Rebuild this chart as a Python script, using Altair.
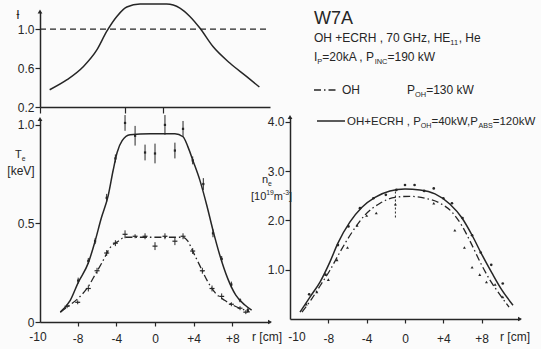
import altair as alt
import pandas as pd

W, H = 541, 349
INK = "#262626"
FONT = "Liberation Sans"

# ---------------- data ----------------
# top-left: rotational transform profile
iota_r = [-10.9, -9.1, -7.4, -6.0, -5.0, -3.95, -2.92, -1.55, 1.2, 2.58, 3.61, 4.64, 6.0, 7.74, 9.46, 10.8]
iota_v = [0.377, 0.48, 0.616, 0.788, 0.975, 1.129, 1.226, 1.256, 1.256, 1.215, 1.129, 1.01, 0.82, 0.651, 0.514, 0.405]
iota_ref_r = [-11.9, 11.9]
iota_ref_v = [1.0, 1.0]

# bottom-left: electron temperature, fitted curves
te_ecrh_r = [-9.8, -8.77, -7.95, -6.9, -6.2, -5.57, -4.85, -4.33, -3.92, -3.4, -2.58, -0.5, 2.06, 2.9, 3.4, 3.92, 4.64, 5.37, 6.0, 6.7, 7.53, 8.36, 9.3, 10.0]
te_ecrh_v = [0.05, 0.11, 0.20, 0.30, 0.41, 0.525, 0.64, 0.77, 0.86, 0.92, 0.95, 0.955, 0.955, 0.94, 0.89, 0.82, 0.72, 0.59, 0.465, 0.34, 0.22, 0.136, 0.086, 0.06]
te_oh_r = [-9.8, -9.0, -7.95, -6.9, -6.2, -5.5, -4.6, -3.8, -3.1, 2.9, 3.4, 3.9, 4.6, 5.4, 6.2, 7.2, 8.3, 9.3, 9.8]
te_oh_v = [0.05, 0.08, 0.12, 0.18, 0.24, 0.30, 0.38, 0.41, 0.43, 0.43, 0.41, 0.36, 0.29, 0.21, 0.15, 0.11, 0.08, 0.06, 0.05]

# bottom-left: measured points with error bars
te_ecrh_pr = [-7.95, -6.9, -6.2, -5.0, -4.1, -3.1, -2.06, -1.03, 0.0, 1.03, 2.06, 2.9, 3.9, 5.0, 6.0, 6.9, 7.9, 8.8, 9.6]
te_ecrh_pv = [0.21, 0.31, 0.41, 0.63, 0.83, 1.01, 0.945, 0.86, 0.855, 1.0, 0.87, 0.98, 0.82, 0.70, 0.45, 0.32, 0.19, 0.11, 0.06]
te_ecrh_pe = [0.015, 0.015, 0.015, 0.02, 0.02, 0.04, 0.05, 0.04, 0.05, 0.05, 0.04, 0.04, 0.02, 0.03, 0.02, 0.015, 0.015, 0.01, 0.01]
te_oh_pr = [-9.1, -8.0, -6.9, -6.0, -5.0, -4.1, -3.1, -2.06, -1.03, 0.0, 1.03, 2.06, 2.9, 3.9, 4.9, 5.9, 6.9, 7.9, 8.8, 9.4]
te_oh_pv = [0.08, 0.10, 0.17, 0.26, 0.35, 0.40, 0.445, 0.435, 0.435, 0.385, 0.435, 0.41, 0.435, 0.36, 0.26, 0.17, 0.13, 0.09, 0.07, 0.05]
te_oh_pe = [0.01, 0.01, 0.015, 0.015, 0.015, 0.015, 0.02, 0.01, 0.015, 0.02, 0.015, 0.02, 0.015, 0.015, 0.015, 0.015, 0.015, 0.01, 0.01, 0.01]

# bottom-right: electron density, fitted curves
ne_ecrh_r = [-10.96, -9.9, -8.87, -7.83, -7.0, -5.74, -4.49, -3.13, -1.57, 0.0, 1.57, 3.13, 4.7, 5.95, 7.0, 8.04, 9.08, 10.1, 11.27]
ne_ecrh_v = [0.14, 0.45, 0.75, 1.16, 1.54, 1.97, 2.27, 2.47, 2.60, 2.64, 2.62, 2.54, 2.33, 2.05, 1.70, 1.30, 0.93, 0.59, 0.28]
ne_oh_r = [-10.75, -9.8, -8.87, -7.83, -6.78, -5.53, -4.18, -2.6, -1.04, 0.52, 2.09, 3.65, 4.9, 5.95, 6.89, 7.83, 8.87, 9.92, 10.86]
ne_oh_v = [0.14, 0.39, 0.67, 0.99, 1.36, 1.76, 2.11, 2.35, 2.47, 2.49, 2.45, 2.35, 2.17, 1.89, 1.54, 1.16, 0.79, 0.49, 0.24]

# bottom-right: measured points
ne_ecrh_pr = [-10.0, -8.3, -7.0, -5.9, -4.7, -3.3, -2.0, -0.9, 0.0, 1.0, 2.0, 3.0, 4.0, 4.9, 6.0, 7.0, 7.9, 9.0, 10.2]
ne_ecrh_pv = [0.5, 0.9, 1.5, 1.88, 2.25, 2.45, 2.52, 2.62, 2.72, 2.72, 2.6, 2.65, 2.45, 2.35, 2.05, 1.7, 1.35, 1.1, 0.72]
ne_oh_pr = [-10.3, -9.2, -8.0, -7.1, -6.0, -5.0, -4.0, -3.0, -1.0, 3.0, 5.2, 6.2, 7.0, 7.8, 8.5, 9.4, 10.2]
ne_oh_pv = [0.3, 0.55, 0.8, 1.2, 1.45, 1.9, 2.1, 2.15, 2.33, 2.35, 1.8, 1.45, 1.05, 0.9, 0.75, 0.7, 0.45]
ne_oh_pe = [0, 0, 0, 0, 0, 0, 0, 0, 0.27, 0, 0, 0, 0, 0, 0, 0, 0]

# ticks
r_ticks = [-8, -4, 0, 4, 8]
iota_rmarks = [-11.9, -3.1, 0.8]
iota_ticks = [0.2, 0.6, 1.0]
te_ticks = [0, 0.5, 1.0]
ne_ticks = [1.0, 2.0, 3.0, 4.0]

# ---------------- geometry (style) ----------------
L_DOM, L_PIX = [-11.9, 11.9], [40, 270]
R_DOM, R_PIX = [-12.0, 12.0], [290, 520]
IOTA_DOM, IOTA_PIX = [0.2, 1.18], [107, 11.5]
TE_DOM, TE_PIX = [0, 1.03], [322, 119]
NE_DOM, NE_PIX = [0, 4.1], [319, 117]

AXIS_STYLE = dict(grid=False, title=None, domainColor=INK, tickColor=INK, domainWidth=1.5,
                  tickWidth=1.2, labelFont=FONT, labelFontSize=12, labelColor=INK)


def xenc(field, dom, pix, ypix, values, labels=True, tick=4, pad=7):
    return alt.X(field, type="quantitative",
                 scale=alt.Scale(domain=dom, range=pix, nice=False, zero=False),
                 axis=alt.Axis(orient="bottom", offset=ypix - H, values=values, labels=labels,
                               tickSize=tick, labelPadding=pad,
                               labelExpr="datum.value > 0 ? '+' + datum.value : '' + datum.value",
                               **AXIS_STYLE))


def yenc(field, dom, pix, xpix, values, expr, tick=5, pad=1):
    return alt.Y(field, type="quantitative",
                 scale=alt.Scale(domain=dom, range=pix, nice=False, zero=False),
                 axis=alt.Axis(orient="left", offset=-xpix, values=values, tickSize=tick,
                               labelPadding=pad, labelExpr=expr, **AXIS_STYLE))


F1 = "format(datum.value, '.1f')"
F0 = "datum.value == 0 ? '0' : format(datum.value, '.1f')"


def line(df, X, Y, dash=None, width=1.5):
    kw = dict(interpolate="monotone", color=INK, strokeWidth=width)
    if dash:
        kw["strokeDash"] = dash
    return alt.Chart(df).mark_line(**kw).encode(x=X, y=Y)


def arrows(X, Y, xdom, ydom):
    up = pd.DataFrame({"r": [xdom[0]], "v": [ydom[1]]})
    rt = pd.DataFrame({"r": [xdom[1]], "v": [ydom[0]]})
    a = alt.Chart(up).mark_point(shape="triangle-up", filled=True, size=22, color=INK, opacity=1).encode(x=X, y=Y)
    b = alt.Chart(rt).mark_point(shape="triangle-right", filled=True, size=22, color=INK, opacity=1).encode(x=X, y=Y)
    return [a, b]


# ---------------- top-left panel ----------------
Xt = xenc("r", L_DOM, L_PIX, 107, iota_rmarks, labels=False, tick=6)
Yt = yenc("v", IOTA_DOM, IOTA_PIX, 40, iota_ticks, F1)
top = alt.layer(
    line(pd.DataFrame({"r": iota_r, "v": iota_v}), Xt, Yt),
    line(pd.DataFrame({"r": iota_ref_r, "v": iota_ref_v}), Xt, Yt, dash=[6, 4], width=1.3),
    alt.Chart(pd.DataFrame({"r": [L_DOM[0]], "v": [IOTA_DOM[1]]})).mark_point(
        shape="triangle-up", filled=True, size=22, color=INK, opacity=1).encode(x=Xt, y=Yt),
)

# ---------------- Te panel ----------------
Xl = xenc("r", L_DOM, L_PIX, 322, r_ticks)
Yl = yenc("v", TE_DOM, TE_PIX, 40, te_ticks, F0)
te_pe = pd.DataFrame({"r": te_ecrh_pr, "v": te_ecrh_pv, "e": te_ecrh_pe})
te_pe["lo"], te_pe["hi"] = te_pe.v - te_pe.e, te_pe.v + te_pe.e
te_po = pd.DataFrame({"r": te_oh_pr, "v": te_oh_pv, "e": te_oh_pe})
te_po["lo"], te_po["hi"] = te_po.v - te_po.e, te_po.v + te_po.e
te_panel = alt.layer(
    line(pd.DataFrame({"r": te_ecrh_r, "v": te_ecrh_v}), Xl, Yl),
    line(pd.DataFrame({"r": te_oh_r, "v": te_oh_v}), Xl, Yl, dash=[7, 3, 1.5, 3], width=1.3),
    alt.Chart(te_pe).mark_rule(color=INK, strokeWidth=1).encode(x=Xl, y=alt.Y("lo:Q"), y2="hi:Q"),
    alt.Chart(te_pe).mark_point(shape="square", filled=True, size=5, color=INK, opacity=1).encode(x=Xl, y=Yl),
    alt.Chart(te_po).mark_rule(color=INK, strokeWidth=1).encode(x=Xl, y=alt.Y("lo:Q"), y2="hi:Q"),
    alt.Chart(te_po).mark_tick(orient="horizontal", size=5, thickness=1.2, color=INK, opacity=1).encode(x=Xl, y=Yl),
    *arrows(Xl, Yl, L_DOM, TE_DOM),
)

# ---------------- ne panel ----------------
Xr = xenc("r", R_DOM, R_PIX, 319, r_ticks, pad=10)
Yr = yenc("v", NE_DOM, NE_PIX, 290, ne_ticks, F1)
ne_po = pd.DataFrame({"r": ne_oh_pr, "v": ne_oh_pv, "e": ne_oh_pe})
ne_po["lo"], ne_po["hi"] = ne_po.v - ne_po.e, ne_po.v + ne_po.e
ne_bar = ne_po[ne_po.e > 0]
ne_panel = alt.layer(
    line(pd.DataFrame({"r": ne_ecrh_r, "v": ne_ecrh_v}), Xr, Yr),
    line(pd.DataFrame({"r": ne_oh_r, "v": ne_oh_v}), Xr, Yr, dash=[7, 3, 1.5, 3], width=1.3),
    alt.Chart(pd.DataFrame({"r": ne_ecrh_pr, "v": ne_ecrh_pv})).mark_point(
        shape="circle", filled=True, size=7, color=INK, opacity=1).encode(x=Xr, y=Yr),
    alt.Chart(ne_po).mark_point(shape="triangle-up", filled=True, size=9, color=INK, opacity=1).encode(x=Xr, y=Yr),
    alt.Chart(ne_bar).mark_rule(color=INK, strokeWidth=1, strokeDash=[2, 2]).encode(x=Xr, y=alt.Y("lo:Q"), y2="hi:Q"),
    *arrows(Xr, Yr, R_DOM, NE_DOM),
)

# ---------------- text annotations ----------------
ONE = alt.Data(values=[{"a": 1}])
AW = {' ': 278, '+': 584, ',': 278, '.': 278, '-': 333, '=': 584, '[': 278, ']': 278,
      'A': 667, 'B': 667, 'C': 722, 'E': 667, 'G': 778, 'H': 722, 'I': 278, 'N': 722,
      'O': 778, 'P': 667, 'R': 722, 'S': 667, 'W': 944, 'T': 611,
      'e': 556, 'k': 500, 'z': 500, 'm': 833, 'c': 500, 'r': 333, 'n': 556}


def tw(s, size):
    return sum(AW.get(ch, 556) for ch in s) * size / 1000.0


def txt(t, x, y, size=12, align="left", baseline="alphabetic"):
    return alt.Chart(ONE).mark_text(text=t, align=align, baseline=baseline, fontSize=size,
                                    font=FONT, color=INK).encode(x=alt.value(x), y=alt.value(y))


def rich(x, y, parts, size=12):
    out, cx = [], x
    for t, kind in parts:
        fs = size if kind == "n" else size * 0.62
        dy = 0 if kind == "n" else (3 if kind == "sub" else -5)
        out.append(txt(t, cx, y + dy, fs))
        cx += tw(t, fs)
    return out


def sample(x0, x1, y, dash=None):
    kw = dict(color=INK, strokeWidth=1.5)
    if dash:
        kw["strokeDash"] = dash
    return alt.Chart(ONE).mark_rule(**kw).encode(x=alt.value(x0), x2=alt.value(x1), y=alt.value(y))


notes = [
    txt("ƚ", 18, 15, 13, align="center", baseline="middle"),
    *rich(15, 158, [("T", "n"), ("e", "sub")], size=11),
    txt("[keV]", 21, 171, 12, align="center", baseline="middle"),
    *rich(262, 183, [("n", "n"), ("e", "sub")], size=11),
    *rich(251, 200, [("[10", "n"), ("19", "sup"), ("m", "n"), ("-3", "sup"), ("]", "n")], size=11),
    txt("-10", 38, 337, 12, align="center", baseline="middle"),
    txt("-10", 297, 337, 12, align="center", baseline="middle"),
    txt("r [cm]", 252, 337, 12, baseline="middle"),
    txt("r [cm]", 500, 337, 12, baseline="middle"),
    txt("W7A", 314, 24, 18),
    *rich(314, 42, [("OH +ECRH , 70 GHz, HE", "n"), ("11", "sub"), (", He", "n")]),
    *rich(314, 61, [("I", "n"), ("P", "sub"), ("=20kA , P", "n"), ("INC", "sub"), ("=190 kW", "n")]),
    sample(314, 337, 90, dash=[7, 3, 1.5, 3]),
    txt("OH", 342, 94, 12),
    *rich(407, 94, [("P", "n"), ("OH", "sub"), ("=130 kW", "n")]),
    sample(317, 345, 121),
    *rich(347, 125, [("OH+ECRH , P", "n"), ("OH", "sub"), ("=40kW,P", "n"), ("ABS", "sub"), ("=120kW", "n")], size=11.5),
]

chart = alt.layer(top, te_panel, ne_panel, *notes).resolve_scale(
    x="independent", y="independent"
).properties(
    width=W, height=H, padding=0, autosize=alt.AutoSizeParams(type="none"), background="#fbfbfb"
).configure_view(stroke=None)

chart.save("out.html", embed_options={"renderer": "svg", "actions": False})
